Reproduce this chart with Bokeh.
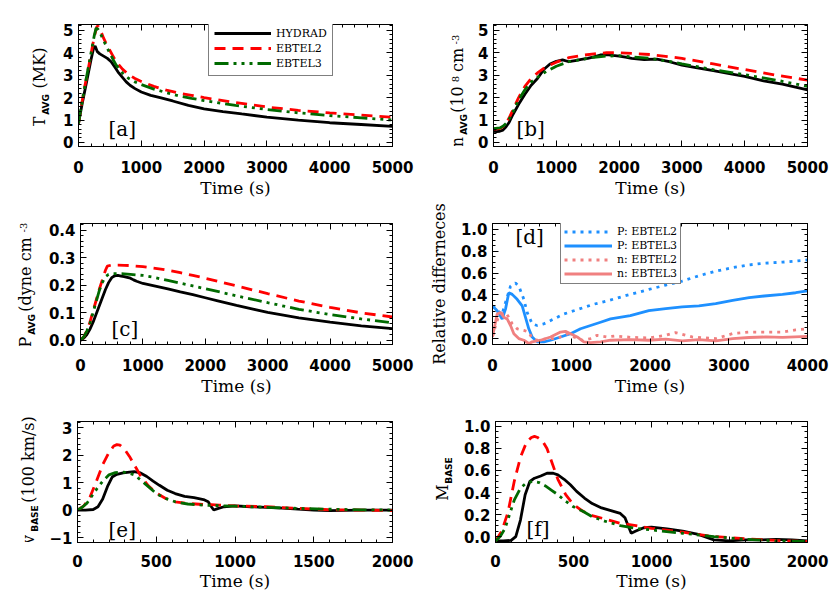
import math
from bokeh.plotting import figure
from bokeh.models import (Range1d, FixedTicker, LinearAxis, Label, Legend,
                          LegendItem, CustomJSTickFormatter, Spacer)
from bokeh.layouts import column, row
from bokeh.embed import file_html
from bokeh.resources import INLINE

# ---------------- data ----------------
# panel a : T_AVG (MK)
a_hyd_t = [0, 30, 60, 100, 150, 200, 240, 265, 300, 340, 400, 460, 520, 580, 640, 700, 760, 820, 900, 1000,
           1150, 1300, 1500, 1750, 2000, 2300, 2600, 3000, 3500, 4000, 4500, 5000]
a_hyd = [0.85, 1.3, 1.75, 2.3, 3.0, 3.7, 4.2, 4.3, 4.05, 3.95, 3.85, 3.75, 3.6, 3.35, 3.1, 2.9, 2.7, 2.55, 2.4, 2.25,
         2.1, 2.0, 1.85, 1.65, 1.5, 1.38, 1.27, 1.13, 1.0, 0.88, 0.8, 0.72]
a_eb2_t = [0, 50, 100, 150, 200, 250, 290, 310, 350, 400, 450, 500, 550, 600, 700, 800, 900, 1000, 1200, 1400,
           1600, 1800, 2000, 2500, 3000, 3500, 4000, 4500, 5000]
a_eb2 = [0.85, 1.7, 2.5, 3.2, 3.95, 4.7, 5.15, 5.2, 5.0, 4.65, 4.35, 4.1, 3.85, 3.6, 3.27, 3.02, 2.85, 2.72, 2.5,
         2.33, 2.2, 2.1, 2.0, 1.78, 1.58, 1.43, 1.32, 1.22, 1.12]
a_eb3_t = [0, 50, 100, 150, 200, 250, 280, 310, 350, 400, 450, 500, 550, 600, 700, 800, 900, 1000, 1200, 1400,
           1600, 1800, 2000, 2500, 3000, 3500, 4000, 4500, 5000]
a_eb3 = [0.85, 1.7, 2.5, 3.25, 4.0, 4.75, 5.1, 5.05, 4.85, 4.55, 4.25, 3.98, 3.7, 3.45, 3.1, 2.85, 2.7, 2.58, 2.38,
         2.22, 2.08, 1.97, 1.87, 1.65, 1.47, 1.32, 1.2, 1.1, 1.0]

# panel b : n_AVG (10^8 cm^-3)
b_hyd_t = [0, 50, 100, 150, 200, 250, 300, 350, 400, 500, 600, 700, 800, 900, 1000, 1100, 1200, 1300, 1400, 1500,
           1600, 1700, 1800, 1900, 2000, 2100, 2200, 2400, 2600, 2800, 3000, 3200, 3500, 3800, 4000, 4300, 4600, 5000]
b_hyd = [0.5, 0.48, 0.5, 0.55, 0.7, 0.9, 1.2, 1.45, 1.7, 2.15, 2.55, 2.85, 3.25, 3.5, 3.62, 3.68, 3.6, 3.65, 3.7,
         3.75, 3.82, 3.9, 3.92, 3.88, 3.85, 3.8, 3.75, 3.7, 3.72, 3.6, 3.45, 3.35, 3.2, 3.05, 2.95, 2.75, 2.6, 2.35]
b_eb2_t = [0, 100, 150, 200, 250, 300, 350, 400, 500, 600, 700, 800, 900, 1000, 1200, 1400, 1600, 1800, 2000, 2200,
           2500, 2800, 3000, 3500, 4000, 4500, 5000]
b_eb2 = [0.6, 0.62, 0.7, 0.85, 1.1, 1.4, 1.7, 2.0, 2.5, 2.85, 3.1, 3.3, 3.45, 3.58, 3.78, 3.88, 3.95, 4.0, 4.0,
         3.97, 3.92, 3.82, 3.75, 3.5, 3.25, 3.0, 2.78]
b_eb3_t = [0, 100, 150, 200, 250, 300, 350, 400, 500, 600, 700, 800, 900, 1000, 1200, 1400, 1600, 1800, 2000, 2200,
           2500, 2800, 3000, 3500, 4000, 4500, 5000]
b_eb3 = [0.62, 0.65, 0.72, 0.85, 1.05, 1.3, 1.6, 1.9, 2.35, 2.7, 2.9, 3.1, 3.25, 3.4, 3.6, 3.7, 3.8, 3.85, 3.87,
         3.82, 3.75, 3.62, 3.5, 3.25, 3.02, 2.78, 2.5]

# panel c : P_AVG (dyne cm^-3)
c_hyd_t = [0, 50, 100, 150, 200, 250, 300, 350, 400, 450, 500, 550, 600, 650, 700, 800, 850, 900, 1000, 1200, 1400,
           1600, 1800, 2000, 2200, 2500, 2800, 3000, 3500, 4000, 4500, 5000]
c_hyd = [0.0, 0.008, 0.02, 0.04, 0.065, 0.095, 0.125, 0.155, 0.185, 0.21, 0.228, 0.235, 0.236, 0.234, 0.232, 0.226,
         0.22, 0.215, 0.207, 0.197, 0.187, 0.176, 0.166, 0.155, 0.144, 0.127, 0.112, 0.102, 0.082, 0.066, 0.053, 0.043]
c_eb2_t = [0, 50, 100, 150, 200, 250, 300, 350, 400, 430, 500, 600, 700, 800, 1000, 1200, 1400, 1600, 1800, 2000,
           2500, 3000, 3500, 4000, 4500, 5000]
c_eb2 = [0.0, 0.012, 0.035, 0.065, 0.105, 0.145, 0.185, 0.22, 0.255, 0.27, 0.274, 0.274, 0.273, 0.272, 0.268,
         0.262, 0.255, 0.246, 0.236, 0.226, 0.198, 0.17, 0.143, 0.12, 0.1, 0.085]
c_eb3_t = [0, 50, 100, 150, 200, 250, 300, 350, 400, 450, 500, 600, 700, 800, 1000, 1200, 1400, 1600, 1800, 2000,
           2500, 3000, 3500, 4000, 4500, 5000]
c_eb3 = [0.0, 0.012, 0.033, 0.06, 0.1, 0.14, 0.18, 0.21, 0.232, 0.24, 0.243, 0.243, 0.242, 0.24, 0.236, 0.228,
         0.218, 0.208, 0.198, 0.188, 0.162, 0.137, 0.113, 0.094, 0.078, 0.064]

# panel d : relative differences
d_p2_t = [0, 60, 120, 165, 229, 292, 334, 398, 440, 504, 567, 652, 779, 906, 1033, 1160, 1287, 1457, 1700, 1985,
          2200, 2409, 2620, 2834, 3050, 3258, 3450, 3682, 3850, 4000]
d_p2 = [0.30, 0.26, 0.22, 0.33, 0.48, 0.51, 0.48, 0.36, 0.24, 0.135, 0.12, 0.135, 0.18, 0.225, 0.255, 0.285,
        0.315, 0.345, 0.395, 0.45, 0.49, 0.527, 0.575, 0.617, 0.65, 0.675, 0.69, 0.7, 0.71, 0.72]
d_p3_t = [0, 59, 123, 165, 207, 250, 313, 377, 419, 461, 504, 567, 652, 737, 864, 991, 1118, 1245, 1372, 1499,
          1750, 1985, 2200, 2409, 2621, 2834, 3050, 3258, 3450, 3682, 3850, 4000]
d_p3 = [0.30, 0.255, 0.18, 0.27, 0.42, 0.405, 0.36, 0.30, 0.195, 0.09, 0.015, -0.03, -0.03, -0.015, 0.015, 0.045,
        0.09, 0.12, 0.15, 0.18, 0.21, 0.256, 0.275, 0.29, 0.30, 0.32, 0.35, 0.375, 0.39, 0.405, 0.42, 0.437]
d_n2_t = [0, 40, 80, 165, 207, 250, 313, 398, 461, 504, 567, 694, 821, 948, 1033, 1139, 1245, 1330, 1457, 1561,
          1750, 1985, 2197, 2324, 2536, 2834, 3046, 3258, 3470, 3682, 3850, 4000]
d_n2 = [0.02, 0.12, 0.21, 0.24, 0.195, 0.135, 0.09, 0.075, 0.06, 0.0, -0.015, 0.0, 0.0, 0.045, 0.015, -0.015, 0.0,
        0.03, 0.015, 0.024, 0.012, 0.006, 0.03, 0.055, 0.015, 0.0, 0.045, 0.06, 0.06, 0.06, 0.08, 0.09]
d_n3_t = [0, 59, 102, 144, 186, 229, 271, 334, 398, 461, 504, 610, 737, 864, 927, 991, 1075, 1160, 1245, 1372, 1499,
          1750, 1985, 2200, 2409, 2620, 2834, 3050, 3258, 3470, 3682, 4000]
d_n3 = [0.015, 0.225, 0.24, 0.195, 0.18, 0.12, 0.045, 0.0, -0.015, -0.045, -0.03, -0.015, 0.015, 0.06, 0.066,
        0.045, 0.015, -0.03, -0.036, -0.03, -0.015, -0.01, -0.015, -0.005, -0.02, -0.01, -0.02, 0.0, 0.01, 0.015,
        0.012, 0.02]

# panel e : v_BASE (100 km/s)
e_hyd_t = [0, 50, 100, 130, 160, 190, 220, 250, 290, 330, 360, 400, 440, 480, 520, 570, 620, 680, 740, 800, 830,
           850, 865, 890, 930, 1000, 1100, 1200, 1300, 1400, 1500, 1600, 1700, 1800, 1900, 2000]
e_hyd = [0, 0, 0.02, 0.12, 0.4, 0.85, 1.2, 1.3, 1.35, 1.38, 1.4, 1.35, 1.22, 1.05, 0.9, 0.72, 0.6, 0.5, 0.45, 0.38,
         0.3, 0.12, 0.0, 0.05, 0.12, 0.15, 0.12, 0.1, 0.07, 0.03, 0.0, -0.02, -0.01, 0.0, 0.0, 0.0]
e_eb2_t = [0, 40, 80, 120, 160, 200, 230, 250, 270, 300, 330, 360, 400, 450, 500, 560, 620, 700, 800, 850, 900,
           1000, 1200, 1400, 1600, 1800, 2000]
e_eb2 = [0, 0.15, 0.48, 1.05, 1.65, 2.1, 2.33, 2.38, 2.36, 2.2, 1.95, 1.65, 1.25, 0.88, 0.62, 0.42, 0.3, 0.24, 0.2,
         0.2, 0.18, 0.15, 0.12, 0.06, 0.01, 0.0, -0.02]
e_eb3_t = [0, 30, 60, 90, 120, 160, 200, 240, 280, 320, 360, 400, 450, 500, 560, 620, 700, 800, 900, 1000, 1200,
           1400, 1600, 1800, 2000]
e_eb3 = [0, 0.1, 0.25, 0.5, 0.75, 1.05, 1.28, 1.36, 1.38, 1.36, 1.28, 1.1, 0.85, 0.6, 0.42, 0.3, 0.22, 0.18, 0.16,
         0.14, 0.1, 0.06, 0.03, 0.01, 0.0]

# panel f : M_BASE
f_hyd_t = [0, 50, 100, 130, 160, 190, 220, 250, 290, 330, 370, 400, 440, 480, 520, 570, 620, 680, 740, 800, 830,
           850, 870, 900, 950, 1000, 1100, 1200, 1300, 1400, 1500, 1600, 1700, 1800, 1900, 2000]
f_hyd = [-0.04, -0.04, -0.035, 0.0, 0.15, 0.38, 0.5, 0.53, 0.55, 0.575, 0.575, 0.56, 0.52, 0.47, 0.41, 0.35, 0.3,
         0.26, 0.235, 0.21, 0.17, 0.1, 0.03, 0.05, 0.08, 0.085, 0.07, 0.05, 0.02, -0.03, -0.04, -0.03, -0.03, -0.025,
         -0.03, -0.04]
f_eb2_t = [0, 40, 80, 120, 160, 200, 230, 250, 270, 300, 330, 360, 400, 450, 500, 560, 620, 700, 800, 900, 1000,
           1200, 1400, 1600, 1800, 2000]
f_eb2 = [-0.04, 0.05, 0.22, 0.5, 0.72, 0.86, 0.9, 0.91, 0.9, 0.87, 0.8, 0.68, 0.52, 0.38, 0.29, 0.23, 0.19, 0.16,
         0.12, 0.1, 0.075, 0.04, 0.0, -0.02, -0.035, -0.045]
f_eb3_t = [0, 30, 60, 90, 120, 160, 200, 240, 280, 320, 360, 400, 450, 500, 530, 560, 620, 700, 800, 900, 1000,
           1200, 1400, 1600, 1800, 2000]
f_eb3 = [-0.04, 0.0, 0.07, 0.2, 0.33, 0.44, 0.49, 0.5, 0.49, 0.46, 0.42, 0.38, 0.32, 0.27, 0.25, 0.23, 0.18, 0.14,
         0.1, 0.075, 0.06, 0.03, 0.0, -0.025, -0.04, -0.045]

legend_a = ["HYDRAD", "EBTEL2", "EBTEL3"]
legend_d = ["P: EBTEL2", "P: EBTEL3", "n: EBTEL2", "n: EBTEL3"]
panel_tags = ["[a]", "[b]", "[c]", "[d]", "[e]", "[f]"]
ylabel_d = "Relative differneces"

# ---------------- styling helpers ----------------
SERIF = "DejaVu Serif"
SANS = "DejaVu Sans"
BLACK, RED, GREEN = "black", "#ff0000", "#006a00"
BLUE, PINK = "#1e90ff", "#f08080"
DASH_RED = "11 7"
DASH_GREEN = "14 5 3 5 3 5 3 5"
DOT = "3 5"

SERIF_W = {' ': 0.318, '(': 0.39, ')': 0.39, '-': 0.338, '/': 0.337, ':': 0.337,
           'T': 0.668, 'M': 0.957, 'K': 0.721, 'P': 0.683, 'R': 0.734, 'H': 0.872,
           'n': 0.644, 'd': 0.64, 'y': 0.592, 'e': 0.592, 'c': 0.554, 'm': 0.948, 's': 0.513,
           'k': 0.617, 'v': 0.592, 'l': 0.32, 'a': 0.596, 't': 0.402, 'i': 0.32, 'f': 0.37, 'r': 0.478}
for _d in "0123456789":
    SERIF_W[_d] = 0.636
SANSB_W = {'A': 0.774, 'V': 0.774, 'G': 0.821, 'B': 0.762, 'S': 0.72, 'E': 0.683}

# font, size, style, width table, axis_label_standoff (positive = raised), extra room
KINDS = {
    'n': (SERIF, 16, 'normal', SERIF_W, 0, 0),
    'sub': (SANS, 9, 'bold', SANSB_W, -2, 0),
    'sup': (SERIF, 10, 'normal', SERIF_W, 8, 6),
}


def twidth(s, table, size):
    return sum(table.get(ch, 0.6) for ch in s) * size


def piece_fig(width, h, txt, kind, left):
    f, s, st, tb, so, pad = KINDS[kind]
    q = figure(width=width, height=h, output_backend="svg", toolbar_location=None,
               x_range=Range1d(0, 1), y_range=Range1d(0, 1), x_axis_type=None,
               min_border_left=left, min_border_right=0, min_border_top=0, min_border_bottom=0,
               background_fill_color="white", border_fill_color="white", outline_line_color=None)
    q.grid.visible = False
    ax = q.yaxis[0]
    ax.ticker = FixedTicker(ticks=[])
    ax.axis_line_color = None
    ax.major_tick_line_color = None
    ax.minor_tick_line_color = None
    ax.major_label_standoff = 0
    ax.axis_label = txt
    ax.axis_label_standoff = so
    ax.axis_label_text_font = f
    ax.axis_label_text_font_size = f"{s}px"
    ax.axis_label_text_font_style = st
    ax.axis_label_text_color = "black"
    return q


def label_strip(width, row_h, parts, base, yc):
    """parts listed bottom-to-top along the rotated label; yc = label centre from row top."""
    left = int(round(base + 3))
    items = []
    total = 0
    for txt, kind in parts:
        if kind == 'gap':
            items.append(Spacer(width=width, height=txt))
            total += txt
        else:
            f, s, st, tb, so, pad = KINDS[kind]
            h = max(4, int(round(twidth(txt, tb, s) * 1.04)) + pad)
            items.append(piece_fig(width, h, txt, kind, left))
            total += h
    bottom = int(round(row_h - yc - total / 2))
    top = row_h - bottom - total
    kids = [Spacer(width=width, height=top)] + items[::-1] + [Spacer(width=width, height=bottom)]
    return column(*kids, spacing=0)


ROW_H = [200, 198, 195]
ROW_TOP = [24, 23, 23]
ROW_BOT = [52, 52, 50]
XSTAND = [14, 14, 12]
XLSTAND = [2, 2, 1]
FW = 315
FMT1 = CustomJSTickFormatter(code="return tick.toFixed(1)")
FMT0 = CustomJSTickFormatter(code="return tick < 0 ? '\u2212' + Math.abs(tick).toFixed(0) : tick.toFixed(0)")


def frange(a, b, step):
    n = int(round((b - a) / step))
    return [round(a + i * step, 6) for i in range(n + 1)]


def make_fig(rw, width, bleft, xr, yr, xmaj, xmin, ymaj, ymin, fmt):
    p = figure(width=width, height=ROW_H[rw], output_backend="svg", toolbar_location=None,
               x_range=Range1d(*xr), y_range=Range1d(*yr),
               min_border_left=bleft, min_border_right=width - bleft - FW,
               min_border_top=ROW_TOP[rw], min_border_bottom=ROW_BOT[rw],
               background_fill_color="white", border_fill_color="white")
    p.grid.visible = False
    p.outline_line_color = "black"
    p.outline_line_width = 1
    xt = FixedTicker(ticks=xmaj, minor_ticks=xmin)
    yt = FixedTicker(ticks=ymaj, minor_ticks=ymin)
    p.xaxis.ticker = xt
    p.yaxis.ticker = yt
    p.yaxis.formatter = fmt
    for ax in (p.xaxis[0], p.yaxis[0]):
        ax.major_tick_in = 6
        ax.major_tick_out = 0
        ax.minor_tick_in = 3
        ax.minor_tick_out = 0
        ax.axis_line_color = "black"
        ax.major_tick_line_color = "black"
        ax.minor_tick_line_color = "black"
        ax.major_label_text_font = SANS
        ax.major_label_text_font_style = "bold"
        ax.major_label_text_font_size = "15px"
        ax.major_label_text_color = "black"
    p.xaxis.major_label_standoff = XSTAND[rw]
    p.yaxis.major_label_standoff = 5
    p.xaxis.axis_label = "Time (s)"
    p.xaxis.axis_label_text_font = SERIF
    p.xaxis.axis_label_text_font_style = "normal"
    p.xaxis.axis_label_text_font_size = "17px"
    p.xaxis.axis_label_text_color = "black"
    p.xaxis.axis_label_standoff = XLSTAND[rw]
    for loc, tk in (("above", xt), ("right", yt)):
        ax = LinearAxis(ticker=tk, major_tick_in=6, major_tick_out=0, minor_tick_in=3, minor_tick_out=0,
                        major_label_text_font_size="1px", major_label_text_color=None,
                        major_label_standoff=0, axis_line_color="black")
        p.add_layout(ax, loc)
    return p


# ---------------- panels ----------------
x5 = frange(0, 5000, 1000)
x5m = frange(0, 5000, 200)
x4 = frange(0, 4000, 1000)
x4m = frange(0, 4000, 200)
x2 = frange(0, 2000, 500)
x2m = frange(0, 2000, 100)

pa = make_fig(0, 355, 17, (0, 5000), (-0.18, 5.26), x5, x5m, frange(0, 5, 1), frange(0, 5.2, 0.2), FMT0)
pb = make_fig(0, 355, 17, (0, 5000), (-0.18, 5.26), x5, x5m, frange(0, 5, 1), frange(0, 5.2, 0.2), FMT0)
pc = make_fig(1, 370, 32, (0, 5000), (-0.015, 0.425), x5, x5m, frange(0, 0.4, 0.1), frange(0, 0.42, 0.02), FMT1)
pd = make_fig(1, 415, 77, (0, 4000), (-0.054, 1.054), x4, x4m, frange(0, 1.0, 0.2), frange(0, 1.05, 0.05), FMT1)
pe = make_fig(2, 370, 32, (0, 2000), (-1.18, 3.22), x2, x2m, frange(-1, 3, 1), frange(-1, 3.2, 0.2), FMT0)
pf = make_fig(2, 370, 32, (0, 2000), (-0.054, 1.045), x2, x2m, frange(0, 1.0, 0.2), frange(0, 1.0, 0.05), FMT1)

pd.yaxis[0].axis_label = ylabel_d
pd.yaxis[0].axis_label_text_font = SERIF
pd.yaxis[0].axis_label_text_font_style = "normal"
pd.yaxis[0].axis_label_text_font_size = "16px"
pd.yaxis[0].axis_label_text_color = "black"
pd.yaxis[0].axis_label_standoff = 9

LW = 2.8


def three(p, ht, h, t2, v2, t3, v3):
    r1 = p.line(ht, h, line_color=BLACK, line_width=LW)
    r2 = p.line(t2, v2, line_color=RED, line_width=LW, line_dash=DASH_RED)
    r3 = p.line(t3, v3, line_color=GREEN, line_width=LW, line_dash=DASH_GREEN)
    return [r1, r2, r3]


ra = three(pa, a_hyd_t, a_hyd, a_eb2_t, a_eb2, a_eb3_t, a_eb3)
three(pb, b_hyd_t, b_hyd, b_eb2_t, b_eb2, b_eb3_t, b_eb3)
three(pc, c_hyd_t, c_hyd, c_eb2_t, c_eb2, c_eb3_t, c_eb3)
three(pe, e_hyd_t, e_hyd, e_eb2_t, e_eb2, e_eb3_t, e_eb3)
three(pf, f_hyd_t, f_hyd, f_eb2_t, f_eb2, f_eb3_t, f_eb3)

rd = [
    pd.line(d_p2_t, d_p2, line_color=BLUE, line_width=LW, line_dash=DOT),
    pd.line(d_p3_t, d_p3, line_color=BLUE, line_width=LW),
    pd.line(d_n2_t, d_n2, line_color=PINK, line_width=LW, line_dash=DOT),
    pd.line(d_n3_t, d_n3, line_color=PINK, line_width=LW),
]


def legend(p, names, rends, loc, gw, lh, pad):
    lg = Legend(items=[LegendItem(label=n, renderers=[r]) for n, r in zip(names, rends)],
                location=loc, glyph_width=gw, glyph_height=lh, label_height=lh, label_standoff=5,
                spacing=1, padding=pad, margin=0, border_line_color="black", border_line_width=1,
                background_fill_color="white", background_fill_alpha=1.0,
                label_text_font=SERIF, label_text_font_size="11px", label_text_color="black")
    p.add_layout(lg)


legend(pa, legend_a, ra, (130, 70), 57, 14, 5)
legend(pd, legend_d, rd, (68, 60), 48, 13, 3)

# y-label strips built from rotated axis labels
la = label_strip(60, ROW_H[0], [("T", 'n'), ("AVG", 'sub'), (5, 'gap'), ("(MK)", 'n')], 45, 86)
lb = label_strip(60, ROW_H[0], [("n", 'n'), ("AVG", 'sub'), ("(10", 'n'), ("8", 'sup'),
                                ("cm", 'n'), ("-3", 'sup'), (")", 'n')], 48, 86)
lc = label_strip(45, ROW_H[1], [("P", 'n'), ("AVG", 'sub'), ("(dyne cm", 'n'), ("-3", 'sup'),
                                (")", 'n')], 31, 80)
le = label_strip(45, ROW_H[2], [("v", 'n'), ("BASE", 'sub'), ("(100 km/s)", 'n')], 34, 80)
lf = label_strip(45, ROW_H[2], [("M", 'n'), ("BASE", 'sub')], 33, 80)

# panel tags
tag_pos = [(pa, 30, 18), (pb, 23, 18), (pc, 31, 16), (pd, 23, 108), (pe, 31, 13), (pf, 31, 14)]
for (p, x, y), tag in zip(tag_pos, panel_tags):
    p.add_layout(Label(x=x, y=y, x_units='screen', y_units='screen', text=tag, text_font=SERIF,
                       text_font_size="20px", text_baseline='alphabetic', text_color='black'))

page = column(row(la, pa, lb, pb, spacing=0), row(lc, pc, pd, spacing=0), row(le, pe, lf, pf, spacing=0),
              spacing=0)
open("out.html", "w").write(file_html(page, INLINE))
